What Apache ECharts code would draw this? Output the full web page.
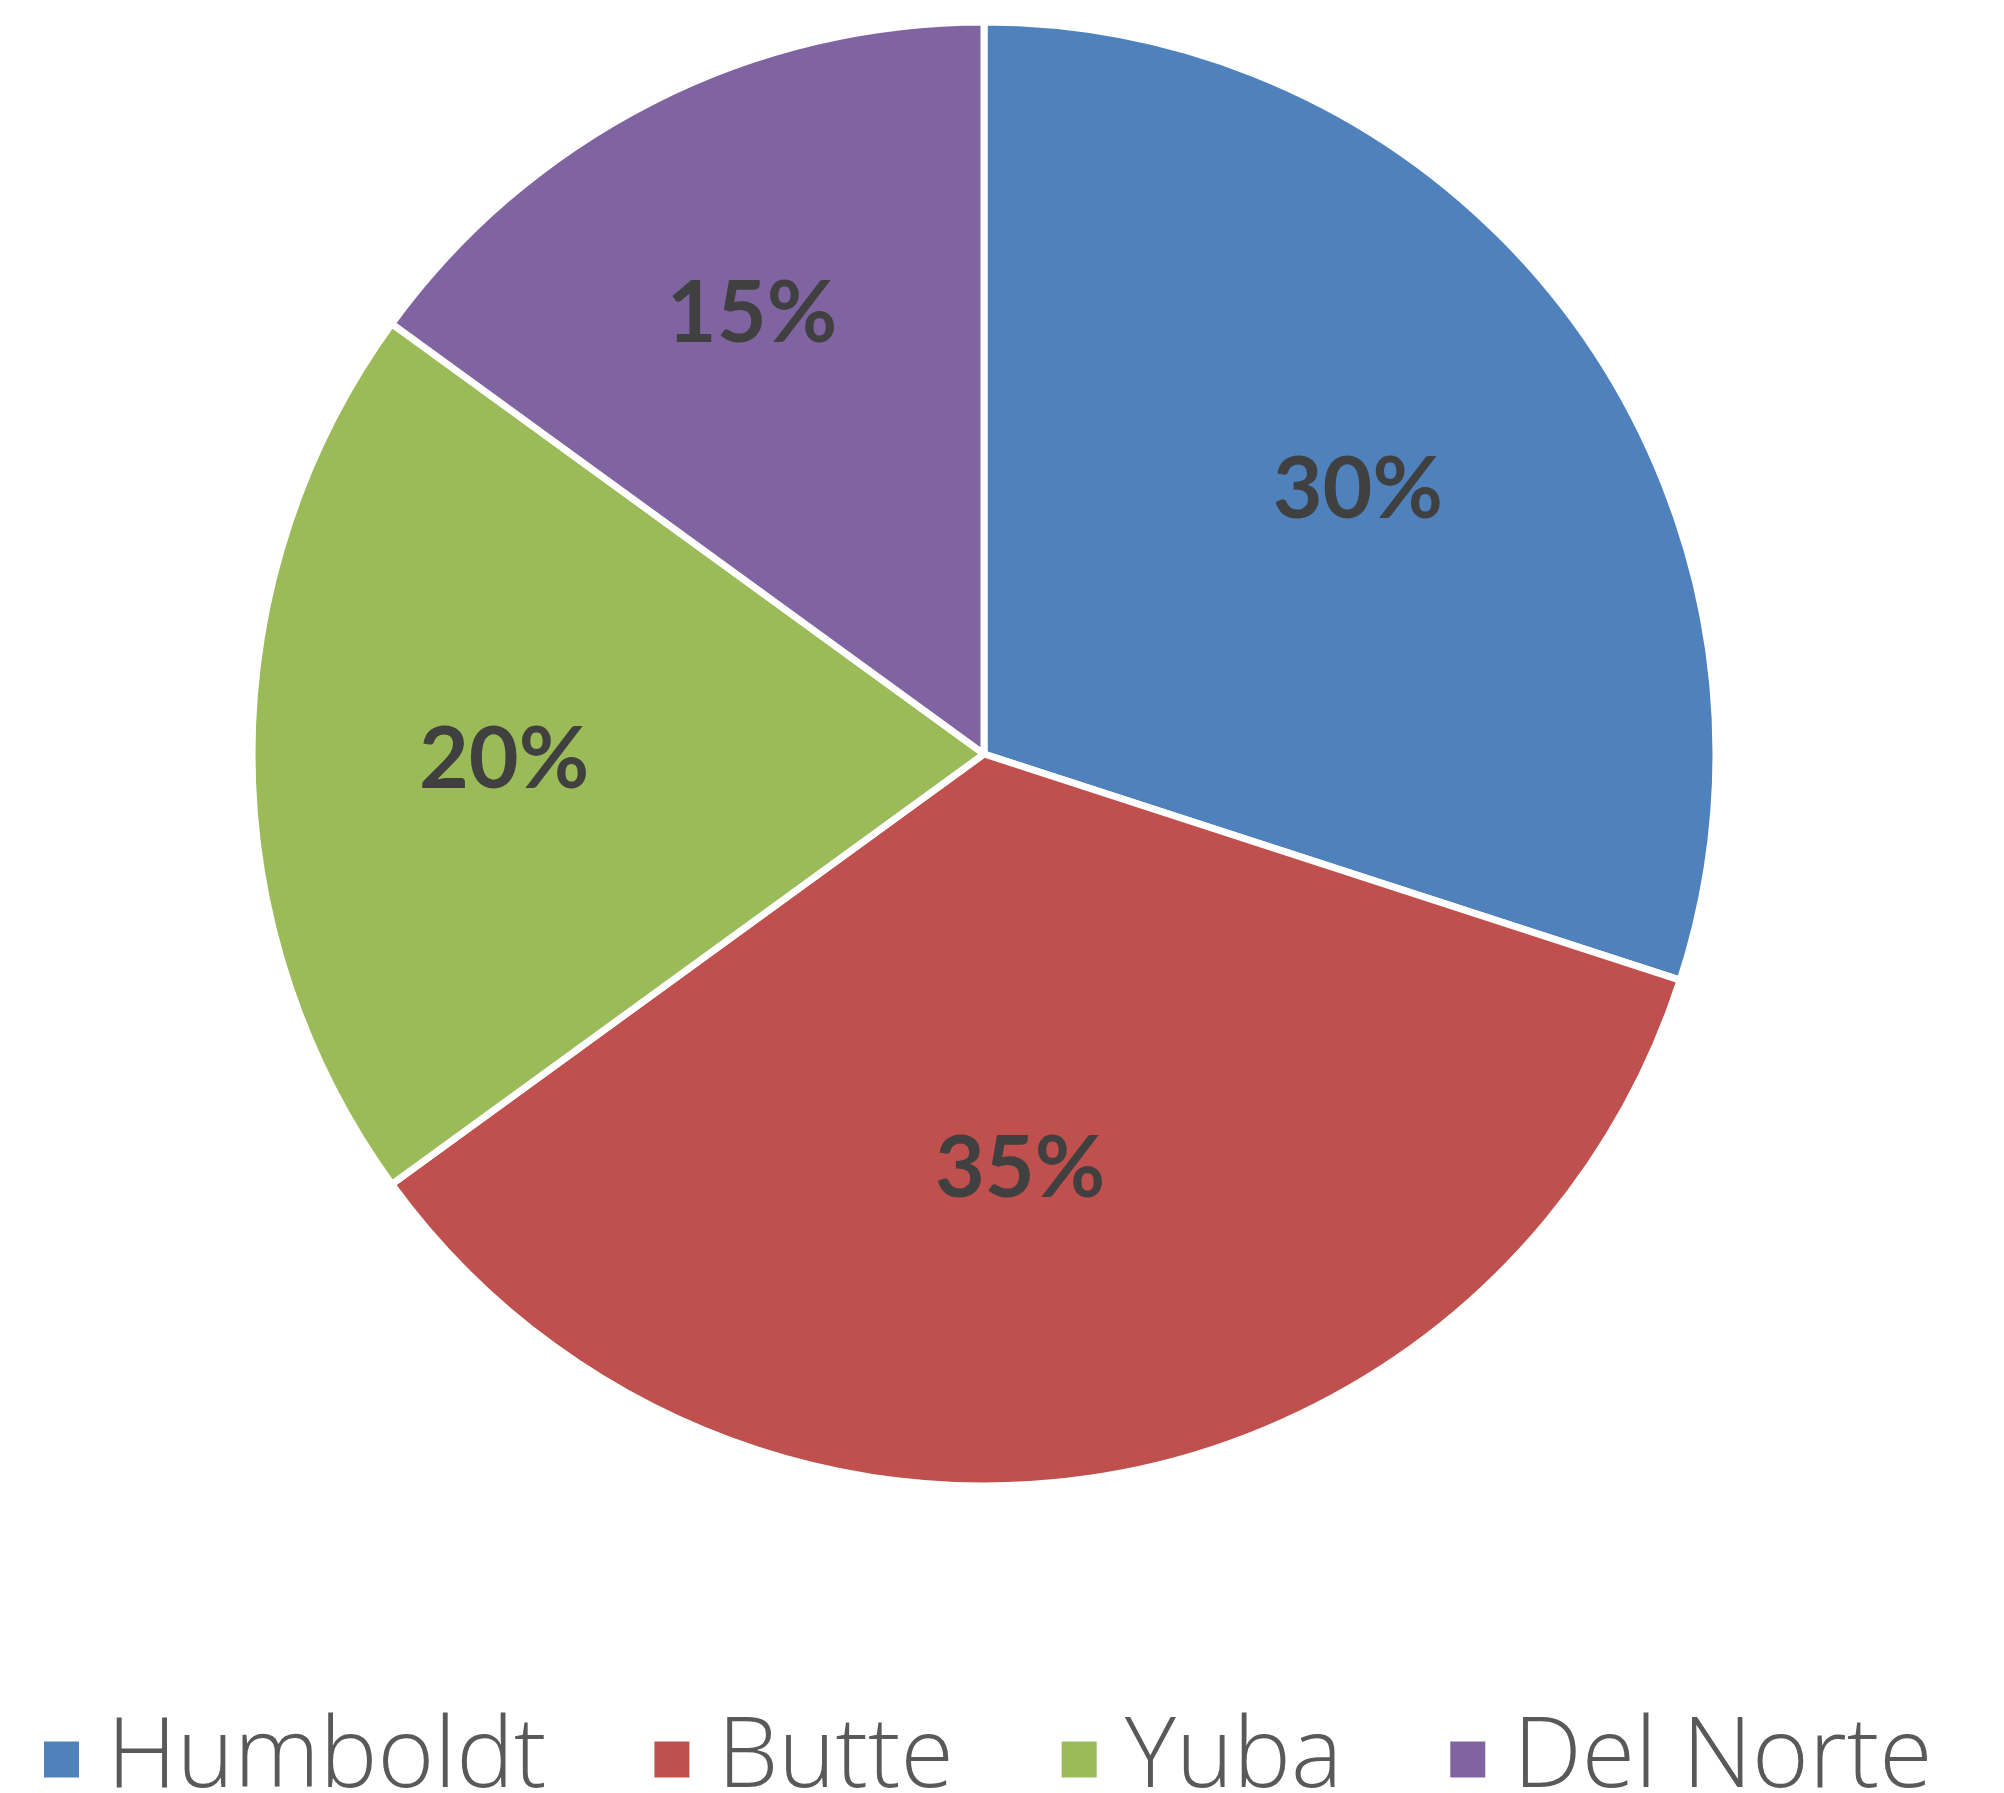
<!DOCTYPE html>
<html>
<head>
<meta charset="utf-8">
<script src="https://cdn.jsdelivr.net/npm/echarts@6/dist/echarts.min.js"></script>
<style>
  html, body { margin: 0; padding: 0; background: #fff; }
  #chart { width: 2004px; height: 1793px; }
</style>
</head>
<body>
<div id="chart"></div>
<script>
// county shares (percent)
var counties = ["Humboldt", "Butte", "Yuba", "Del Norte"];
var shares = [30, 35, 20, 15];
var colors = ["#4F81BD", "#C0504D", "#9BBB59", "#8064A2"];

var chart = echarts.init(document.getElementById("chart"));

// small nudges so the percent labels sit where the original puts them
var labelNudge = [[-4, 11], [-37, -46], [-13, 6], [-20, -24]];

var pieData = counties.map(function (name, i) {
  return { name: name, value: shares[i] };
});
var labelData = counties.map(function (name, i) {
  return { name: name, value: shares[i], label: { offset: labelNudge[i] } };
});

var option = {
  animation: false,
  color: colors,
  legend: {
    data: counties,
    left: 42,
    top: 1711,
    padding: 0,
    icon: "rect",
    itemWidth: 37,
    itemHeight: 38,
    itemGap: 106,
    textStyle: {
      fontFamily: "Open Sans",
      fontWeight: 300,
      fontSize: 97,
      color: "#595959",
      padding: [0, 0, 0, 22]
    }
  },
  series: [
    {
      // the visible pie
      type: "pie",
      center: [984, 754],
      radius: [0, 732],
      startAngle: 90,
      clockwise: true,
      data: pieData,
      label: { show: false },
      labelLine: { show: false },
      itemStyle: { borderColor: "#fff", borderWidth: 7 },
      silent: true
    },
    {
      // transparent pie only used to place the percent labels further out
      type: "pie",
      center: [984, 754],
      radius: [0, 928],
      startAngle: 90,
      clockwise: true,
      data: labelData,
      legendHoverLink: false,
      silent: true,
      itemStyle: { color: "rgba(0,0,0,0)", borderWidth: 0 },
      label: {
        show: true,
        position: "inside",
        formatter: "{d}%",
        fontFamily: "Lato",
        fontWeight: "bold",
        fontSize: 86,
        color: "#404040"
      },
      labelLine: { show: false }
    }
  ]
};

chart.setOption(option);
</script>
</body>
</html>
